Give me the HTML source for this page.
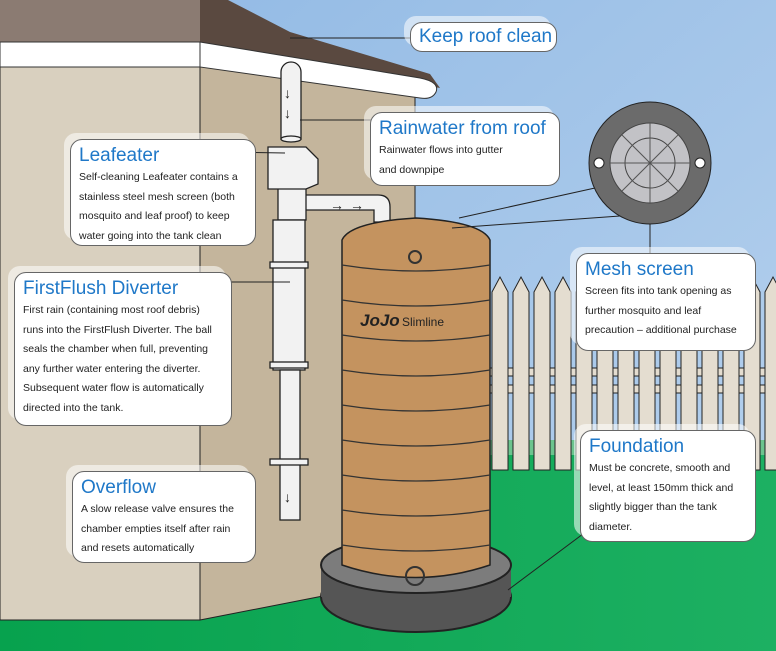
<!DOCTYPE html>
<html><head><meta charset="utf-8"><style>
body{margin:0;width:776px;height:651px;overflow:hidden;font-family:"Liberation Sans",sans-serif}
.b{position:absolute;background:#fff;border:1.5px solid #666;border-radius:12px;box-shadow:-6px -6px 0 rgba(255,255,255,.55);color:#222;font-size:10.5px;line-height:19.5px;padding:0 8px}
.b h{display:block;color:#1f78c8;font-size:19px;line-height:24px;margin-top:4px;white-space:nowrap}
</style></head><body>
<svg width="776" height="651" style="position:absolute;left:0;top:0">
<defs><linearGradient id="sky" x1="0" y1="0" x2="1" y2="1"><stop offset="0" stop-color="#8fb8e4"/><stop offset="1" stop-color="#b9d3ee"/></linearGradient>
<linearGradient id="gr" x1="0" y1="0" x2="1" y2="0"><stop offset="0" stop-color="#07a24e"/><stop offset="1" stop-color="#1db062"/></linearGradient></defs>
<rect width="776" height="651" fill="url(#sky)"/>
<rect y="440" width="776" height="211" fill="#6cc48e"/>
<rect y="455" width="776" height="196" fill="url(#gr)"/>
<!-- fence -->
<g fill="#e4ddd0" stroke="#222" stroke-width="1">
<rect x="480" y="368" width="296" height="8"/><rect x="480" y="385" width="296" height="8"/>
<path d="M492 470V292l8-15 8 15v178z"/><path d="M513 470V292l8-15 8 15v178z"/><path d="M534 470V292l8-15 8 15v178z"/><path d="M555 470V292l8-15 8 15v178z"/><path d="M576 470V292l8-15 8 15v178z"/><path d="M597 470V292l8-15 8 15v178z"/><path d="M618 470V292l8-15 8 15v178z"/><path d="M639 470V292l8-15 8 15v178z"/><path d="M660 470V292l8-15 8 15v178z"/><path d="M681 470V292l8-15 8 15v178z"/><path d="M702 470V292l8-15 8 15v178z"/><path d="M723 470V292l8-15 8 15v178z"/><path d="M744 470V292l8-15 8 15v178z"/><path d="M765 470V292l8-15 8 15v178z"/>
</g>
<!-- house -->
<polygon points="200,60 415,92 415,578 200,620" fill="#c4b59c" stroke="#222"/>
<rect x="0" y="0" width="200" height="620" fill="#d9d0bf" stroke="#222"/>
<rect x="0" y="0" width="200" height="42" fill="#8b7b72"/>
<polygon points="200,0 228,0 290,32 430,74 440,88 200,42" fill="#5a4940"/>
<rect x="0" y="42" width="200" height="25" fill="#fff" stroke="#333"/>
<path d="M200 42 L420 78 Q440 82 436 92 Q432 100 420 98 L200 67Z" fill="#fff" stroke="#333"/>
<!-- pipes -->
<g fill="#f2f2f2" stroke="#222" stroke-width="1.3">
<path d="M281 139V72a10 10 0 0 1 20 0v67z"/><ellipse cx="291" cy="139" rx="10" ry="3"/>
<path d="M300 195h78q12 0 12 12v15h-16v-12h-74z"/>
<rect x="278" y="180" width="28" height="40"/>
<rect x="273" y="220" width="32" height="150"/>
<rect x="280" y="370" width="20" height="150"/>
<rect x="270" y="262" width="38" height="6"/><rect x="270" y="362" width="38" height="6"/><rect x="270" y="459" width="38" height="6"/>
<path d="M268 147h38l12 12v25l-12 5h-38z"/>
</g>
<g fill="#222" font-weight="bold"><text x="284" y="98" font-size="14">↓</text><text x="284" y="118" font-size="14">↓</text><text x="330" y="210" font-size="14">→</text><text x="350" y="210" font-size="14">→</text><text x="284" y="502" font-size="14">↓</text></g>
<!-- tank -->
<ellipse cx="416" cy="597" rx="95" ry="35" fill="#555" stroke="#222" stroke-width="2"/>
<rect x="321" y="565" width="190" height="32" fill="#555"/>
<ellipse cx="416" cy="565" rx="95" ry="28" fill="#7c7c7c" stroke="#222" stroke-width="2"/>
<path d="M342 240 Q350 222 416 218 Q482 222 490 240 L490 565 Q416 590 342 565Z" fill="#c4935f" stroke="#222" stroke-width="1.5"/>
<g stroke="#333" fill="none" stroke-width="1.2"><path d="M342 265q74 12 148 0"/><path d="M342 300q74 12 148 0"/><path d="M342 335q74 12 148 0"/><path d="M342 370q74 12 148 0"/><path d="M342 405q74 12 148 0"/><path d="M342 440q74 12 148 0"/><path d="M342 475q74 12 148 0"/><path d="M342 510q74 12 148 0"/><path d="M342 545q74 12 148 0"/></g>
<circle cx="415" cy="257" r="6" fill="none" stroke="#333" stroke-width="2"/>
<circle cx="415" cy="576" r="9" fill="none" stroke="#333" stroke-width="2"/>
<text x="360" y="326" font-size="17" font-style="italic" font-weight="bold" fill="#222">JoJo</text><text x="402" y="326" font-size="12" fill="#222">Slimline</text>
<!-- leaders -->
<g stroke="#222"><line x1="459" y1="218" x2="595" y2="188" /><line x1="452" y1="228" x2="620" y2="216"/><line x1="650" y1="214" x2="650" y2="258"/><line x1="290" y1="38" x2="415" y2="38"/><line x1="300" y1="120" x2="372" y2="120"/><line x1="224" y1="152" x2="285" y2="153"/><line x1="218" y1="282" x2="290" y2="282"/><line x1="595" y1="525" x2="508" y2="590"/></g>
<circle cx="650" cy="163" r="61" fill="#6b6b6b" stroke="#222"/>
<circle cx="650" cy="163" r="40" fill="#c2c2c6" stroke="#444"/>
<circle cx="650" cy="163" r="25" fill="none" stroke="#444"/>
<g stroke="#555"><line x1="650" y1="123" x2="650" y2="203"/><line x1="610" y1="163" x2="690" y2="163"/><line x1="622" y1="135" x2="678" y2="191"/><line x1="678" y1="135" x2="622" y2="191"/></g>
<circle cx="599" cy="163" r="5" fill="#fff" stroke="#222"/><circle cx="700" cy="163" r="5" fill="#fff" stroke="#222"/>
</svg>
<div class="b" style="left:410px;top:22px;width:129px;height:28px"><h style="margin-top:2px">Keep roof clean</h></div>
<div class="b" style="left:370px;top:112px;width:172px;height:72px"><h>Rainwater from roof</h>Rainwater flows into gutter<br>and downpipe</div>
<div class="b" style="left:70px;top:139px;width:168px;height:105px"><h>Leafeater</h>Self-cleaning Leafeater contains a stainless steel mesh screen (both mosquito and leaf proof) to keep water going into the tank clean</div>
<div class="b" style="left:14px;top:272px;width:200px;height:152px"><h>FirstFlush Diverter</h>First rain (containing most roof debris) runs into the FirstFlush Diverter. The ball seals the chamber when full, preventing any further water entering the diverter. Subsequent water flow is automatically directed into the tank.</div>
<div class="b" style="left:72px;top:471px;width:166px;height:90px"><h>Overflow</h>A slow release valve ensures the chamber empties itself after rain and resets automatically</div>
<div class="b" style="left:576px;top:253px;width:162px;height:96px"><h>Mesh screen</h>Screen fits into tank opening as further mosquito and leaf precaution – additional purchase</div>
<div class="b" style="left:580px;top:430px;width:158px;height:110px"><h>Foundation</h>Must be concrete, smooth and level, at least 150mm thick and slightly bigger than the tank diameter.</div>
</body></html>
